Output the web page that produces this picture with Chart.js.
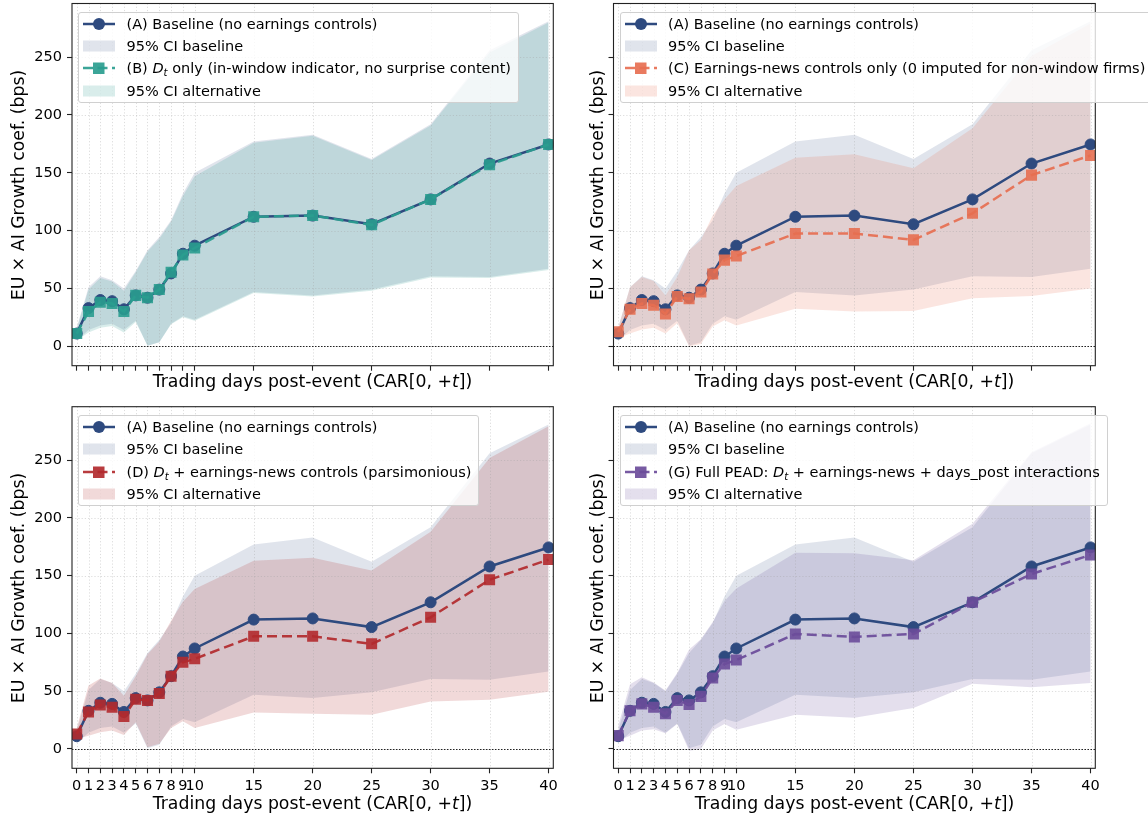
<!DOCTYPE html>
<html>
<head>
<meta charset="utf-8">
<script src="https://cdn.jsdelivr.net/npm/chart.js@4.4.1/dist/chart.umd.min.js"></script>
<style>
  body { margin: 0; width: 1148px; height: 817px; overflow: hidden; position: relative; background: #fff; font-family: 'DejaVu Sans', sans-serif; color: #000; }
  .panel { position: absolute; }
  .xlabel { position: absolute; font-size: 17.3px; line-height: 20px; text-align: center; white-space: nowrap; }
  .ylabel { position: absolute; font-size: 17.3px; line-height: 20px; white-space: nowrap; transform: translate(-50%, -50%) rotate(-90deg); }
  .legend { position: absolute; background: rgba(255,255,255,0.8); border: 1px solid #d0d0d0; border-radius: 3px; padding: 0 7px 0 4px; font-size: 14.5px; white-space: nowrap; }
  .legend .row { display: flex; align-items: center; height: 22.3px; }
  .legend svg { margin-right: 11.5px; flex: none; }
  sub { font-size: 70%; vertical-align: -0.3em; line-height: 0; }
</style>
</head>
<body>
<div class="panel" style="left:0;top:0"><canvas id="c0" width="574" height="400"></canvas></div>
<div class="panel" style="left:574px;top:0"><canvas id="c1" width="574" height="400"></canvas></div>
<div class="panel" style="left:0;top:400px"><canvas id="c2" width="574" height="417"></canvas></div>
<div class="panel" style="left:574px;top:400px"><canvas id="c3" width="574" height="417"></canvas></div>
<script>
// x axis: trading days after the event
const days = [0, 1, 2, 3, 4, 5, 6, 7, 8, 9, 10, 15, 20, 25, 30, 35, 40];
const xTicks = [0, 1, 2, 3, 4, 5, 6, 7, 8, 9, 10, 15, 20, 25, 30, 35, 40];
const yTicks = [0, 50, 100, 150, 200, 250];

// (A) baseline
const baseCoef = [11, 33, 40, 39, 32, 44, 42, 49, 63, 80, 87, 112, 113, 105.5, 127, 158, 174.5];
const baseLo = [5, 14, 18, 19.5, 14, 22, 0.5, 3.5, 19.5, 26, 23, 47, 44, 49, 60.5, 60, 67];
const baseHi = [16, 51, 60.5, 57, 50, 65, 83, 94.5, 109, 132, 150, 177, 183, 162, 192, 256, 281];

// (B) D_t only
const bCoef = [11, 30, 38, 37, 30, 44, 42, 49, 64, 79, 85, 112, 113, 105, 127, 157, 174.5];
const bLo = [5, 12, 16, 17.5, 12, 21, 0.5, 3.5, 19, 25, 22, 46, 43, 48, 59.5, 59, 66];
const bHi = [15, 49, 59, 56, 48, 64, 82, 93, 108, 130, 147, 176, 182, 161, 191, 254, 280];

// (C) earnings-news controls only
const cCoef = [12.5, 32, 37, 35.5, 28, 43, 41, 47, 62.5, 74.5, 78, 97.5, 97.5, 92, 115, 148, 165];
const cLo = [7, 11, 14.5, 16, 11, 20, 0, 2, 17, 22.5, 18, 32.5, 30, 30.5, 41.5, 43.5, 50];
const cHi = [16, 51, 60, 56.5, 44, 60, 83, 92, 113, 127, 138.5, 163, 166, 154, 188.5, 251, 279];

// (D) D_t + earnings-news controls
const dCoef = [13, 32, 38, 36, 28, 43, 42, 48, 63, 75, 78, 97.5, 97.5, 91, 114, 146.5, 164];
const dLo = [8.5, 11.5, 14.5, 16, 12, 23, 1.5, 4.5, 18, 24, 18, 31.5, 30.5, 29.5, 41, 42.5, 49.5];
const dHi = [18, 55, 61, 57, 46, 63, 82, 93, 111, 127.5, 138.5, 163, 165.5, 154.5, 188, 252, 279.5];

// (G) full PEAD
const gCoef = [11.5, 33, 39, 36, 30.5, 42, 38.5, 45.5, 61.5, 73.5, 77, 99.5, 97, 99.5, 127, 151.5, 168];
const gLo = [7, 11.5, 16, 17, 13.5, 21.5, -1.5, 0, 16, 21.5, 16.5, 29.5, 27, 35.5, 56.5, 53.5, 57];
const gHi = [20, 56, 62, 57.5, 50.5, 66, 86, 95, 110, 128, 139, 170, 169.5, 163.5, 195, 257, 282];

const NAVY = '#2e4a7f';

Chart.defaults.font.family = "'DejaVu Sans', sans-serif";
Chart.defaults.color = '#000';

function rgba(hex, a) {
    const n = parseInt(hex.slice(1), 16);
    return `rgba(${n >> 16},${(n >> 8) & 255},${n & 255},${a})`;
}

function pts(values) {
    return days.map((d, i) => ({ x: d, y: values[i] }));
}

// grid, zero line and box around the axes
const framePlugin = {
    id: 'frame',
    beforeDatasetDraw(chart, args) {
        if (args.index !== 4) return;
        const { ctx, chartArea: a, scales: { x, y } } = chart;
        ctx.save();
        ctx.lineWidth = 0.8;
        ctx.strokeStyle = 'rgba(160,160,160,0.45)';
        ctx.setLineDash([1.2, 2]);
        ctx.beginPath();
        xTicks.forEach(v => {
            const px = Math.round(x.getPixelForValue(v)) + 0.5;
            ctx.moveTo(px, a.top); ctx.lineTo(px, a.bottom);
        });
        yTicks.forEach(v => {
            const py = Math.round(y.getPixelForValue(v)) + 0.5;
            ctx.moveTo(a.left, py); ctx.lineTo(a.right, py);
        });
        ctx.stroke();
        ctx.strokeStyle = '#222';
        ctx.lineWidth = 1;
        ctx.setLineDash([1.5, 1.5]);
        const zy = Math.round(y.getPixelForValue(0)) + 0.5;
        ctx.beginPath(); ctx.moveTo(a.left, zy); ctx.lineTo(a.right, zy); ctx.stroke();
        ctx.restore();
    },
    afterDraw(chart) {
        const { ctx, chartArea: a } = chart;
        ctx.save();
        ctx.strokeStyle = '#222';
        ctx.lineWidth = 1.1;
        ctx.strokeRect(a.left, a.top, a.right - a.left, a.bottom - a.top);
        ctx.restore();
    }
};

function makePanel(canvasId, alt, area, showX, showY) {
    const canvas = document.getElementById(canvasId);
    const W = canvas.width, H = canvas.height;
    const tickFont = { family: "'DejaVu Sans', sans-serif", size: 14.5 };
    const gridOpts = { drawOnChartArea: false, drawTicks: true, tickLength: 5, tickColor: '#222', tickWidth: 1.1 };

    return new Chart(canvas, {
        type: 'line',
        data: {
            datasets: [
                { data: pts(baseHi), fill: '+1', backgroundColor: rgba(NAVY, 0.15), borderWidth: 0, pointRadius: 0, order: 4 },
                { data: pts(baseLo), fill: false, borderWidth: 0, pointRadius: 0, order: 4 },
                { data: pts(alt.hi), fill: '+1', backgroundColor: rgba(alt.color, 0.18), borderWidth: 0, pointRadius: 0, order: 3 },
                { data: pts(alt.lo), fill: false, borderWidth: 0, pointRadius: 0, order: 3 },
                {
                    data: pts(baseCoef), borderColor: NAVY, borderWidth: 2.5, fill: false,
                    pointStyle: 'circle', pointRadius: 5.5, pointBorderWidth: 1,
                    pointBackgroundColor: NAVY, pointBorderColor: NAVY, order: 2
                },
                {
                    data: pts(alt.coef), borderColor: rgba(alt.color, 0.92), borderWidth: 2.5, borderDash: [10, 5], fill: false,
                    pointStyle: 'rect', pointRadius: 7.8, pointBorderWidth: 0,
                    pointBackgroundColor: rgba(alt.color, 0.9), order: 1
                }
            ]
        },
        options: {
            responsive: false,
            animation: false,
            events: [],
            devicePixelRatio: 1,
            layout: { autoPadding: false, padding: { left: 0, top: area.top, right: W - area.right, bottom: 0 } },
            plugins: { legend: { display: false }, tooltip: { enabled: false } },
            scales: {
                x: {
                    type: 'linear', min: -0.4, max: 40.4,
                    afterBuildTicks: s => { s.ticks = xTicks.map(v => ({ value: v })); },
                    afterFit: s => { s.height = H - area.bottom; s.paddingLeft = 0; s.paddingRight = 0; },
                    ticks: { display: showX, autoSkip: false, maxRotation: 0, padding: 4, font: tickFont, color: '#000' },
                    grid: gridOpts,
                    border: { display: false }
                },
                y: {
                    type: 'linear', min: -16.8, max: 296.4,
                    afterBuildTicks: s => { s.ticks = yTicks.map(v => ({ value: v })); },
                    afterFit: s => { s.width = area.left; s.paddingTop = 0; s.paddingBottom = 0; },
                    ticks: { display: showY, padding: 5, font: tickFont, color: '#000' },
                    grid: gridOpts,
                    border: { display: false }
                }
            }
        },
        plugins: [framePlugin]
    });
}

makePanel('c0', { coef: bCoef, lo: bLo, hi: bHi, color: '#2a9d8f' }, { left: 72, right: 553.3, top: 3.5, bottom: 365.7 }, false, true);
makePanel('c1', { coef: cCoef, lo: cLo, hi: cHi, color: '#e76f51' }, { left: 39.5, right: 521.3, top: 3.5, bottom: 365.7 }, false, false);
makePanel('c2', { coef: dCoef, lo: dLo, hi: dHi, color: '#b22a2e' }, { left: 72, right: 553.3, top: 6.7, bottom: 368.3 }, true, true);
makePanel('c3', { coef: gCoef, lo: gLo, hi: gHi, color: '#6b4c9a' }, { left: 39.5, right: 521.3, top: 6.7, bottom: 368.3 }, true, false);

// legend handles
function lineHandle(color, dashed, marker) {
    const dash = dashed ? ' stroke-dasharray="10 4.5"' : '';
    const mark = marker === 'circle'
        ? `<circle cx="16" cy="7" r="6" fill="${color}"/>`
        : `<rect x="10" y="1.5" width="11.5" height="11.5" fill="${color}"/>`;
    return `<svg width="32" height="14"><line x1="0" y1="7" x2="32" y2="7" stroke="${color}" stroke-width="2.5"${dash}/>${mark}</svg>`;
}
function patchHandle(fill) {
    return `<svg width="32" height="14"><rect x="0" y="1.5" width="32" height="11" fill="${fill}"/></svg>`;
}

function addLegend(left, top, altLabel, altColor) {
    const box = document.createElement('div');
    box.className = 'legend';
    box.style.left = left + 'px';
    box.style.top = top + 'px';
    const rows = [
        [lineHandle(NAVY, false, 'circle'), '(A) Baseline (no earnings controls)'],
        [patchHandle(rgba(NAVY, 0.15)), '95% CI baseline'],
        [lineHandle(rgba(altColor, 0.92), true, 'rect'), altLabel],
        [patchHandle(rgba(altColor, 0.18)), '95% CI alternative']
    ];
    box.innerHTML = rows.map(r => `<div class="row">${r[0]}<span>${r[1]}</span></div>`).join('');
    document.body.appendChild(box);
}

addLegend(78, 11.7, '(B) <i>D</i><sub><i>t</i></sub> only (in-window indicator, no surprise content)', '#2a9d8f');
addLegend(619.5, 11.7, '(C) Earnings-news controls only (0 imputed for non-window firms)', '#e76f51');
addLegend(78, 415, '(D) <i>D</i><sub><i>t</i></sub> + earnings-news controls (parsimonious)', '#b22a2e');
addLegend(619.5, 415, '(G) Full PEAD: <i>D</i><sub><i>t</i></sub> + earnings-news + days_post interactions', '#6b4c9a');

// axis titles
function addText(cls, html, style) {
    const el = document.createElement('div');
    el.className = cls;
    el.innerHTML = html;
    Object.assign(el.style, style);
    document.body.appendChild(el);
}
const xTitle = 'Trading days post-event (CAR[0, +<i>t</i>])';
addText('xlabel', xTitle, { left: '72px', width: '481px', top: '371px' });
addText('xlabel', xTitle, { left: '613.5px', width: '482px', top: '371px' });
addText('xlabel', xTitle, { left: '72px', width: '481px', top: '793px' });
addText('xlabel', xTitle, { left: '613.5px', width: '482px', top: '793px' });
const yTitle = 'EU × AI Growth coef. (bps)';
addText('ylabel', yTitle, { left: '18px', top: '184.6px' });
addText('ylabel', yTitle, { left: '597px', top: '184.6px' });
addText('ylabel', yTitle, { left: '18px', top: '587.5px' });
addText('ylabel', yTitle, { left: '597px', top: '587.5px' });
</script>
</body>
</html>
